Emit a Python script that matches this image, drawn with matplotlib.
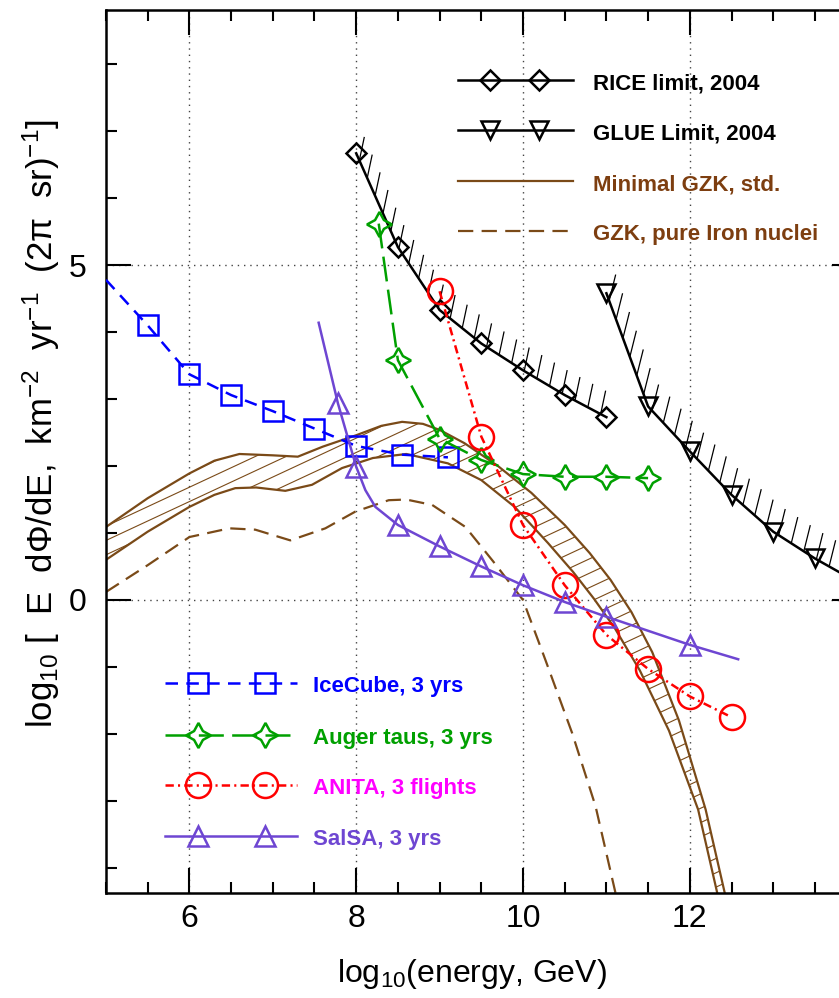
import numpy as np
import matplotlib
matplotlib.use('Agg')
import matplotlib.pyplot as plt
from matplotlib.collections import LineCollection
from matplotlib.patches import Polygon
from matplotlib.ticker import MultipleLocator

plt.rcParams['font.family'] = ['Liberation Sans', 'DejaVu Sans']
plt.rcParams['mathtext.fontset'] = 'custom'
plt.rcParams['mathtext.rm'] = 'Liberation Sans'
plt.rcParams['mathtext.it'] = 'Liberation Sans:italic'
plt.rcParams['mathtext.bf'] = 'Liberation Sans:bold'
plt.rcParams['lines.scale_dashes'] = False

# ---- data (log10 E [GeV], log10 flux) ----
rice_x = [8.0, 8.5, 9.0, 9.5, 10.0, 10.5, 11.0]
rice_y = [6.67, 5.27, 4.33, 3.83, 3.43, 3.06, 2.73]

glue_x = [11.0, 11.5, 12.0, 12.5, 13.0, 13.5, 14.0]
glue_y = [4.58, 2.89, 2.22, 1.57, 1.02, 0.62, 0.27]

icecube_x = [5.0, 5.5, 6.0, 6.5, 7.0, 7.5, 8.0, 8.55, 9.1]
icecube_y = [4.78, 4.10, 3.37, 3.06, 2.82, 2.56, 2.30, 2.17, 2.13]

auger_x = [8.27, 8.5, 9.0, 9.5, 10.0, 10.5, 11.0, 11.5]
auger_y = [5.62, 3.58, 2.41, 2.09, 1.88, 1.84, 1.84, 1.82]

anita_x = [9.0, 9.5, 10.0, 10.5, 11.0, 11.5, 12.0, 12.5]
anita_y = [4.61, 2.44, 1.12, 0.22, -0.52, -1.03, -1.44, -1.75]

salsa_x = [7.55, 7.78, 8.0, 8.11, 8.23, 8.5, 9.0, 9.5, 10.0, 10.5, 11.0, 12.0, 12.58]
salsa_y = [4.14, 2.94, 1.99, 1.64, 1.39, 1.12, 0.80, 0.50, 0.22, -0.03, -0.25, -0.67, -0.885]
salsa_marked = [1, 2, 5, 6, 7, 8, 9, 10, 11]

# minimal GZK band, upper and lower edge
gzk_hi_x = [5.0, 5.5, 6.0, 6.3, 6.6, 7.0, 7.3, 7.6, 8.0, 8.3, 8.55, 8.8, 9.0, 9.3, 9.7,
            10.1, 10.5, 10.8, 11.05, 11.3, 11.55, 11.87, 12.19, 12.42]
gzk_hi_y = [1.09, 1.52, 1.89, 2.08, 2.18, 2.16, 2.14, 2.29, 2.46, 2.60, 2.66, 2.63, 2.54, 2.34, 2.0,
            1.6, 1.12, 0.70, 0.30, -0.18, -0.78, -1.80, -3.13, -4.38]
gzk_lo_x = [5.0, 5.5, 6.0, 6.3, 6.55, 6.8, 7.15, 7.47, 7.83, 8.2, 8.6, 9.1, 9.5, 9.9,
            10.3, 10.6, 10.85, 11.1, 11.4, 11.75, 12.1, 12.33]
gzk_lo_y = [0.60, 1.02, 1.39, 1.57, 1.67, 1.68, 1.63, 1.72, 1.97, 2.12, 2.18, 2.04, 1.79, 1.39,
            0.85, 0.42, 0.02, -0.42, -1.05, -1.95, -3.13, -4.38]

# GZK, pure iron
iron_x = [5.0, 5.5, 6.0, 6.48, 6.79, 7.21, 7.63, 7.99, 8.39, 8.6, 8.91, 9.31, 9.64,
          10.0, 10.27, 10.59, 10.87, 11.11]
iron_y = [0.12, 0.52, 0.94, 1.07, 1.05, 0.89, 1.07, 1.32, 1.49, 1.50, 1.42, 1.09, 0.58,
          0.0, -0.90, -1.99, -3.08, -4.38]

BROWN = '#7a4a18'
BROWN_TXT = '#7d3e10'
BLUE = '#0000ff'
GREEN = '#00a000'
RED = '#ff0000'
PURPLE = '#6e46d2'

fig = plt.figure(figsize=(8.39, 9.98), dpi=100)
ax = fig.add_axes([106 / 839, 104.7 / 998, 750.6 / 839, 883.3 / 998])
ax.set_xlim(5, 14)
ax.set_ylim(-4.38, 8.81)


def tick_hatch(xs, ys, spacing=13.5, length=24, angle=78, yweight=0.62):
    # short slanted strokes on the allowed side of a limit curve
    pts = ax.transData.transform(np.column_stack([xs, ys]))
    d = np.diff(pts, axis=0)
    s = np.concatenate([[0], np.cumsum(np.hypot(d[:, 0], d[:, 1] * yweight))])
    st = np.arange(spacing * 0.4, s[-1], spacing)
    p0 = np.column_stack([np.interp(st, s, pts[:, 0]), np.interp(st, s, pts[:, 1])])
    a = np.radians(angle)
    p1 = p0 + length * np.array([np.cos(a), np.sin(a)])
    inv = ax.transData.inverted()
    segs = np.stack([inv.transform(p0), inv.transform(p1)], axis=1)
    ax.add_collection(LineCollection(segs, colors='black', linewidths=0.9, zorder=3))


# hatched GZK band
band = np.vstack([np.column_stack([gzk_hi_x, gzk_hi_y]),
                  np.column_stack([gzk_lo_x, gzk_lo_y])[::-1]])
poly = Polygon(band, closed=True, facecolor='none', edgecolor='none')
ax.add_patch(poly)
bb = ax.bbox
th = np.radians(25)
u = np.array([np.cos(th), np.sin(th)])
nrm = np.array([-np.sin(th), np.cos(th)])
corners = np.array([[bb.x0, bb.y0], [bb.x1, bb.y0], [bb.x0, bb.y1], [bb.x1, bb.y1]])
proj = corners @ nrm
inv = ax.transData.inverted()
segs = []
for o in np.arange(proj.min(), proj.max(), 13.0):
    c = o * nrm
    segs.append(inv.transform(np.array([c - 3000 * u, c + 3000 * u])))
hl = LineCollection(segs, colors=BROWN, linewidths=0.8, zorder=2)
ax.add_collection(hl)
hl.set_clip_path(poly)

ax.plot(gzk_hi_x, gzk_hi_y, color=BROWN, lw=1.6, zorder=2)
ax.plot(gzk_lo_x, gzk_lo_y, color=BROWN, lw=1.6, zorder=2)
ax.plot(iron_x, iron_y, color=BROWN, lw=1.6, ls=(0, (11, 6)), zorder=2)

# limits with hatching
tick_hatch(rice_x, rice_y)
tick_hatch(glue_x, glue_y, length=27, angle=76)

styles = {
    'rice': dict(color='black', lw=1.8, marker='D', ms=10, mfc='none', mew=1.8),
    'glue': dict(color='black', lw=1.8, marker='v', ms=13, mfc='none', mew=1.8),
    'icecube': dict(color=BLUE, lw=1.8, ls=(0, (9, 6)), marker='s', ms=14, mfc='none', mew=1.8),
    'auger': dict(color=GREEN, lw=1.8, ls=(0, (18, 6)), marker=(4, 1, 0), ms=18, mfc='none', mew=1.8),
    'anita': dict(color=RED, lw=1.8, ls=(0, (6, 3, 1.5, 3)), marker='o', ms=18, mfc='none', mew=1.8),
    'salsa': dict(color=PURPLE, lw=1.8, marker='^', ms=15, mfc='none', mew=1.8),
}

ax.plot(rice_x, rice_y, zorder=4, **styles['rice'])
ax.plot(glue_x, glue_y, zorder=4, **styles['glue'])
ax.plot(icecube_x, icecube_y, markevery=list(range(1, len(icecube_x))), zorder=5, **styles['icecube'])
ax.plot(auger_x, auger_y, zorder=5, **styles['auger'])
ax.plot(anita_x, anita_y, zorder=5, **styles['anita'])
ax.plot(salsa_x, salsa_y, markevery=salsa_marked, zorder=5, **styles['salsa'])

# legends drawn by hand, two blocks
legend_top = [('RICE limit, 2004', 'rice', 'black'),
              ('GLUE Limit, 2004', 'glue', 'black'),
              ('Minimal GZK, std.', None, BROWN_TXT),
              ('GZK, pure Iron nuclei', 'iron', BROWN_TXT)]
legend_bot = [('IceCube, 3 yrs', 'icecube', BLUE),
              ('Auger taus, 3 yrs', 'auger', GREEN),
              ('ANITA, 3 flights', 'anita', '#ff00ff'),
              ('SalSA, 3 yrs', 'salsa', PURPLE)]


def draw_legend(entries, x0, x1, mx, tx, ys):
    for (label, key, tcol), y in zip(entries, ys):
        if key in styles:
            st = dict(styles[key])
            ax.plot([x0, x1], [y, y], transform=ax.transAxes, clip_on=False,
                    **{k: v for k, v in st.items() if k not in ('marker', 'ms', 'mfc', 'mew')})
            ax.plot(mx, [y, y], transform=ax.transAxes, clip_on=False, ls='none',
                    color=st['color'], marker=st['marker'], ms=st['ms'], mfc='none', mew=st['mew'])
        else:
            ls = (0, (11, 6)) if key == 'iron' else '-'
            ax.plot([x0, x1], [y, y], transform=ax.transAxes, color=BROWN, lw=1.6, ls=ls, clip_on=False)
        ax.text(tx, y - 0.004, label, transform=ax.transAxes, color=tcol, fontsize=16,
                fontweight='bold', family=['Liberation Sans Narrow', 'Liberation Sans'],
                ha='left', va='center')


draw_legend(legend_top, 0.469, 0.622, [0.5116, 0.5769], 0.649,
            [0.9207, 0.8641, 0.8064, 0.7497])
draw_legend(legend_bot, 0.0786, 0.2545, [0.1226, 0.2118], 0.2758,
            [0.2383, 0.1794, 0.1228, 0.0651])

# axes cosmetics
ax.set_xticks([6, 8, 10, 12])
ax.xaxis.set_minor_locator(MultipleLocator(0.5))
ax.yaxis.set_major_locator(MultipleLocator(5))
ax.yaxis.set_minor_locator(MultipleLocator(1))
ax.tick_params(which='both', direction='in', top=True, right=True, width=1.5, labelsize=23)
ax.tick_params(which='major', length=18)
ax.tick_params(which='minor', length=8)
ax.tick_params(axis='x', pad=8)
ax.tick_params(axis='y', pad=14)
for sp in ax.spines.values():
    sp.set_linewidth(1.8)
ax.grid(True, which='major', color='#444444', lw=1.0, ls=(0, (1, 3.5)))
ax.set_axisbelow(True)

ax.set_xlabel('log$_{10}$(energy, GeV)', fontsize=23)
ax.xaxis.set_label_coords(0.4876, -0.072)
ax.set_ylabel('log$_{10}$ [  E  d\u03a6/dE,  km$^{-2}$  yr$^{-1}$  (2\u03c0  sr)$^{-1}$]', fontsize=25)
ax.yaxis.set_label_coords(-0.086, 0.532)
ax.yaxis.label.set_verticalalignment('center')

fig.savefig('out.png', dpi=100)
